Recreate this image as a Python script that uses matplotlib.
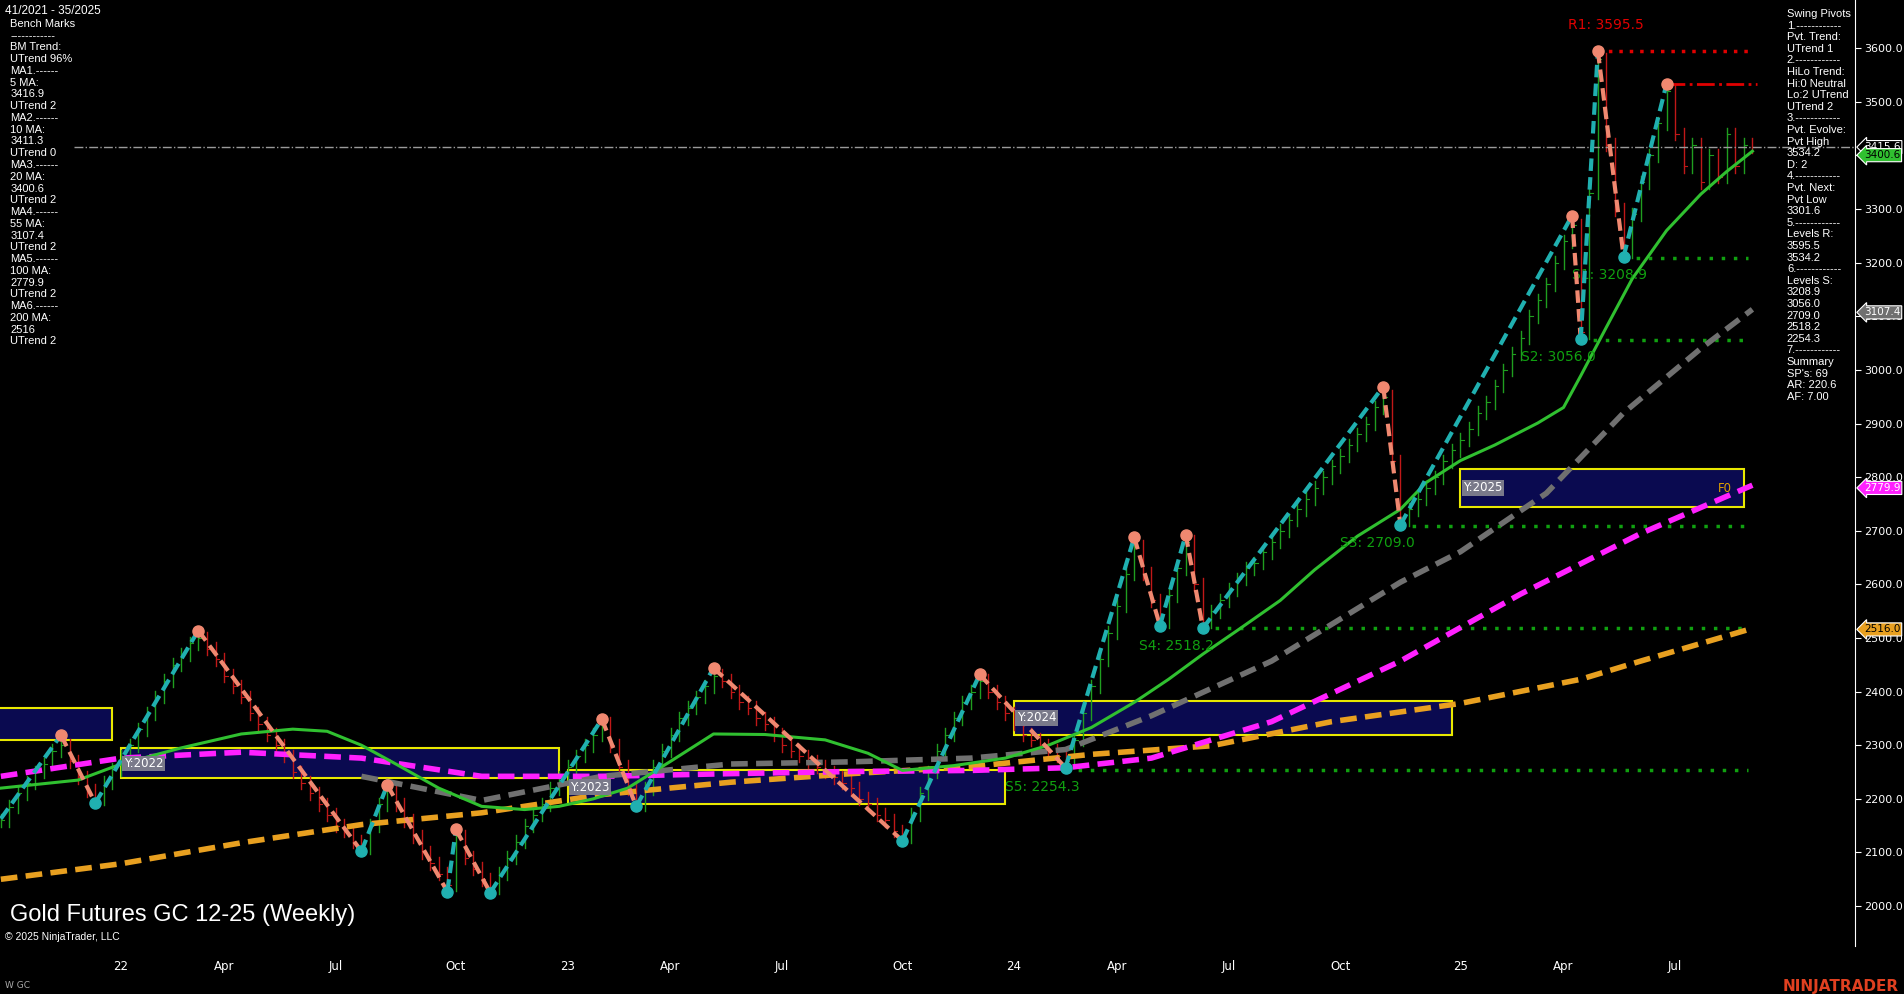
import matplotlib
matplotlib.use("Agg")
import matplotlib.pyplot as plt
from matplotlib.patches import Rectangle
import numpy as np

# weekly closes, week index -14 .. 190 (0 = first week of 2022)
closes = [2160,2185,2210,2230,2250,2265,2290,2300,
 2270,2240,2215,2200,
 2230,2255,2280,2300,2330,2360,2390,2420,2450,2470,2490,2500,
 2480,2460,2430,2410,2390,2360,2340,2320,2300,2280,2250,2230,2210,2190,2170,2150,2140,2120,2110,
 2150,2190,2220,
 2190,2160,2130,2100,2080,2060,2040,
 2130,
 2090,2070,2050,2035,
 2060,2090,2120,2150,2170,2190,2220,2240,2260,2280,2300,2320,2340,
 2300,2260,2220,2190,
 2220,2260,2290,2320,2350,2370,2390,2410,2430,
 2420,2400,2380,2370,2350,2340,2320,2300,2290,2280,2270,2260,2250,2240,2230,2220,2200,2190,2170,2160,2140,2130,
 2170,2210,2250,2290,2320,2350,2380,2400,2420,
 2400,2380,2360,2340,2320,2310,2300,2290,2280,2270,
 2310,2360,2410,2460,2510,2560,2620,2670,
 2620,2570,2530,
 2580,2630,2680,
 2600,2530,
 2550,2570,2590,2610,2630,2640,2660,2680,2700,2720,2740,2760,2780,2800,2820,2840,2860,2880,2900,2930,2950,
 2830,2720,
 2740,2760,2780,2800,2830,2850,2870,2890,2920,2940,2970,3000,3030,3060,3100,3130,3160,3200,3240,3270,
 3070,
 3330,3580,
 3420,3300,3220,
 3290,3350,3400,3460,3520,
 3440,3380,3420,3350,3400,3360,3440,3380,3420,3416]
week0 = -14

piv_w = [-7,-3,9,28,31,38,39,43,56,60,69,91,100,110,118,121,124,126,147,149,169,170,172,175,180]
piv_p = [2319,2192,2514,2102,2226,2027,2143,2025,2349,2186,2444,2122,2432,2258,2688,2523,2693,2518,2969,2711,3288,3057,3595,3211,3534]
piv_start = (-14, 2163)

ma20_w = [-14,-5,0,7,14,20,24,28,32,37,42,47,51,55,59,64,69,75,82,87,91,97,103,108,113,118,122,126,130,135,139,144,149,152,156,160,165,168,170,173,176,180,184,187,190]
ma20_p = [2220,2235,2265,2295,2321,2330,2326,2300,2265,2220,2186,2180,2186,2200,2220,2270,2321,2320,2310,2285,2253,2262,2276,2300,2333,2380,2423,2470,2514,2570,2627,2690,2740,2790,2831,2860,2901,2930,2989,3080,3170,3260,3328,3370,3408]
ma55_w = [28,42,56,71,85,99,110,120,134,149,156,166,175,184,190]
ma55_p = [2242,2197,2242,2265,2269,2276,2292,2355,2457,2604,2661,2770,2920,3040,3113]
ma100_w = [-14,0,14,28,42,56,71,85,99,110,120,134,149,163,177,190]
ma100_p = [2242,2276,2287,2276,2242,2242,2247,2251,2253,2258,2276,2344,2457,2582,2695,2785]
ma200_w = [-14,0,14,28,42,56,71,85,99,113,127,141,156,170,177,190]
ma200_p = [2050,2079,2118,2152,2174,2208,2231,2247,2260,2283,2299,2344,2378,2423,2457,2518]

s_levels = [(3208.9,175,"S1: 3208.9",169),(3056.0,170,"S2: 3056.0",163),(2709.0,149,"S3: 2709.0",142),
            (2518.2,126,"S4: 2518.2",118.5),(2254.3,110,"S5: 2254.3",103)]
year_boxes = [(-15,-1,2310,2369,None),(0,51,2238,2294,"Y:2022"),(52,103,2190,2254,"Y:2023"),
              (104,155,2319,2383,"Y:2024"),(156,189,2745,2815,"Y:2025")]
xt_pos = [0,12,25,39,52,64,77,91,104,116,129,142,156,168,181]
xt_lab = ["22","Apr","Jul","Oct","23","Apr","Jul","Oct","24","Apr","Jul","Oct","25","Apr","Jul"]

fig = plt.figure(figsize=(19.04,9.94), dpi=100, facecolor="black")
ax = fig.add_axes([0,0.048,0.9745,0.952], facecolor="black")
ax.set_xlim(-14.1,202)
ax.set_ylim(1925,3690)

# bars
prev = closes[0]
for i,c in enumerate(closes):
    w = week0+i
    o = prev
    col = "#1f9e1f" if c >= o else "#c01818"
    ax.plot([w,w],[min(o,c)-12,max(o,c)+12],color=col,lw=1)
    ax.plot([w,w+0.4],[c,c],color=col,lw=0.8)
    prev = c

# year boxes
for x0,x1,y0,y1,lab in year_boxes:
    ax.add_patch(Rectangle((x0,y0),x1-x0,y1-y0,facecolor="#0a0a50",edgecolor="#e8e800",lw=1.5,zorder=1))
    if lab:
        ax.text(x0+0.3,(y0+y1)/2,lab,color="white",fontsize=8.5,va="center",
                bbox=dict(facecolor="#7a7a8a",edgecolor="none",pad=1),zorder=5)
ax.text(186,2779,"F0",color="#e0a000",fontsize=8.5,va="center")

# MAs
ax.plot(ma200_w,ma200_p,color="#e8a020",lw=4,ls=(0,(3,1.5)),zorder=3)
ax.plot(ma100_w,ma100_p,color="#ff20ff",lw=4,ls=(0,(3,1.5)),zorder=3)
ax.plot(ma55_w,ma55_p,color="#707070",lw=4,ls=(0,(3,1.5)),zorder=3)
ax.plot(ma20_w,ma20_p,color="#30c030",lw=2.2,zorder=3)

# levels
ax.axhline(3415.6,color="#9a9a9a",lw=1,ls="-.",xmin=0.04)
ax.plot([172,189.5],[3595.5,3595.5],color="#e00000",lw=2.5,ls=(0,(1,2)))
ax.plot([180,190.5],[3534.2,3534.2],color="#e00000",lw=2,ls="-.")
ax.text(168.5,3635,"R1: 3595.5",color="#e00000",fontsize=10)
for p,w0,lab,lx in s_levels:
    ax.plot([w0,189.5],[p,p],color="#10a010",lw=2.5,ls=(0,(1,2.5)))
    ax.text(lx,p-40,lab,color="#10a010",fontsize=10)

# zigzag
pw = [piv_start[0]]+piv_w; pp = [piv_start[1]]+piv_p
for i in range(len(pw)-1):
    up = pp[i+1] > pp[i]
    ax.plot(pw[i:i+2],pp[i:i+2],color="#20b0b0" if up else "#f08870",lw=3,ls=(0,(3,1.5)),zorder=4)
for i,(w,p) in enumerate(zip(piv_w,piv_p)):
    hi = (i % 2 == 0)
    ax.plot(w,p,"o",ms=8,color="#f08870" if hi else "#20b0b0",zorder=6)

# axes style
for s in ["top","left","bottom"]:
    ax.spines[s].set_visible(False)
ax.spines["right"].set_color("white")
ax.yaxis.tick_right()
ax.set_yticks(np.arange(2000,3601,100))
ax.set_yticklabels([f"{v:.1f}" for v in np.arange(2000,3601,100)])
ax.tick_params(axis="y",colors="white",labelsize=8,length=4,pad=2)
ax.set_xticks(xt_pos); ax.set_xticklabels(xt_lab)
ax.tick_params(axis="x",colors="white",labelsize=8.5,length=0,pad=10)

# right price tags
for v,fc,tc in [(3415.6,"black","white"),(3400.6,"#30c030","black"),(3107.4,"#707070","white"),
                (2779.9,"#ff20ff","white"),(2516.0,"#e8a020","black")]:
    ax.annotate(f"{v:.1f}",xy=(1.0,v),xycoords=("axes fraction","data"),xytext=(6,0),
                textcoords="offset points",color=tc,fontsize=7.5,va="center",
                bbox=dict(boxstyle="larrow,pad=0.15",facecolor=fc,edgecolor="white",lw=0.8),zorder=10,annotation_clip=False)

left_txt = ("Bench Marks\n------------\nBM Trend:\nUTrend 96%\nMA1.------\n5 MA:\n3416.9\nUTrend 2\nMA2.------\n10 MA:\n3411.3\n"
            "UTrend 0\nMA3.------\n20 MA:\n3400.6\nUTrend 2\nMA4.------\n55 MA:\n3107.4\nUTrend 2\nMA5.------\n100 MA:\n"
            "2779.9\nUTrend 2\nMA6.------\n200 MA:\n2516\nUTrend 2")
fig.text(0.0026,0.995,"41/2021 - 35/2025",color="white",fontsize=8.5,va="top",family="Liberation Sans")
fig.text(0.0055,0.981,left_txt,color="white",fontsize=8,va="top",linespacing=1.22,family="Liberation Sans")
right_txt = ("Swing Pivots\n1.------------\nPvt. Trend:\nUTrend 1\n2.------------\nHiLo Trend:\nHi:0 Neutral\nLo:2 UTrend\nUTrend 2\n"
             "3.------------\nPvt. Evolve:\nPvt High\n3534.2\nD: 2\n4.------------\nPvt. Next:\nPvt Low\n3301.6\n5.------------\n"
             "Levels R:\n3595.5\n3534.2\n6.------------\nLevels S:\n3208.9\n3056.0\n2709.0\n2518.2\n2254.3\n7.------------\n"
             "Summary\nSP's: 69\nAR: 220.6\nAF: 7.00")
fig.text(0.9385,0.991,right_txt,color="white",fontsize=8,va="top",linespacing=1.2,family="Liberation Sans")
fig.text(0.0055,0.073,"Gold Futures GC 12-25 (Weekly)",color="white",fontsize=17,family="Liberation Sans")
fig.text(0.0026,0.054,"© 2025 NinjaTrader, LLC",color="white",fontsize=7.5,family="Liberation Sans")
fig.text(0.0026,0.006,"W GC",color="#aaaaaa",fontsize=6.5)
fig.text(0.997,0.003,"NINJATRADER",color="#e04020",fontsize=11,fontweight="bold",ha="right")
fig.savefig("out.png",dpi=100,facecolor="black")
